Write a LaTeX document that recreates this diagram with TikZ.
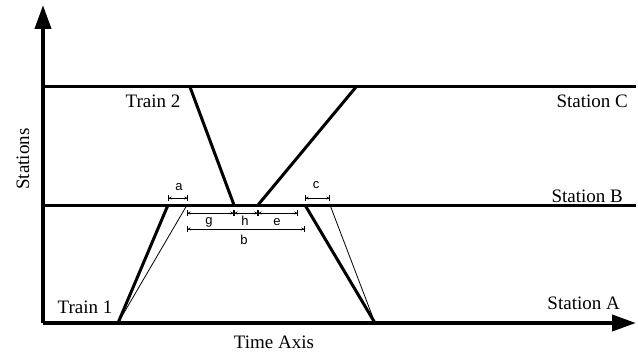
\documentclass[tikz,border=0pt]{standalone}
\usepackage{fontspec}
\setmainfont{Liberation Serif}
\newfontfamily\dimfont{Liberation Sans}
\usetikzlibrary{arrows.meta,positioning}
\tikzset{
  axis/.style    = {line width=4pt, -{Triangle[length=24pt,width=16pt]}},
  station/.style = {line width=3pt},
  train/.style   = {line width=3pt},
  ideal/.style   = {line width=0.8pt},
  dim/.style     = {line width=0.7pt,
                    {Bar[width=6pt]Stealth[length=3pt,width=3pt]}-{Stealth[length=3pt,width=3pt]Bar[width=6pt]}},
  lab/.style     = {font=\fontsize{19}{22}\selectfont, inner sep=0pt},
  dimlab/.style  = {font=\dimfont\fontsize{13}{15}\selectfont, inner sep=0pt},
}

\begin{document}
\begin{tikzpicture}[x=1pt,y=-1pt]
  \useasboundingbox (0,0) rectangle (638,353);

  % axes
  \coordinate (O)  at (43,323);
  \coordinate (yT) at (43,5);
  \coordinate (xT) at (636,323);
  \draw[axis] (O) -- (yT);
  \draw[axis] (O) -- (xT);

  % station lines
  \coordinate (C0) at (43,87);   \coordinate (C1) at (636,87);
  \coordinate (B0) at (43,205);  \coordinate (B1) at (636,205);
  \draw[station] (C0) -- (C1);
  \draw[station] (B0) -- (B1);

  % train paths
  \coordinate (t1a) at (118,323);  \coordinate (t1b) at (168,205);
  \coordinate (t1c) at (305,205);  \coordinate (t1d) at (375,323);
  \coordinate (t2a) at (190,87);   \coordinate (t2b) at (234,205);
  \coordinate (t2c) at (258,205);  \coordinate (t2d) at (356,87);
  \coordinate (i1)  at (187,205);  \coordinate (i2)  at (330,205);
  \draw[train] (t1a) -- (t1b);
  \draw[train] (t1c) -- (t1d);
  \draw[train] (t2a) -- (t2b);
  \draw[train] (t2c) -- (t2d);
  \draw[ideal] (t1a) -- (i1);
  \draw[ideal] (i2) -- (t1d);

  % dimensions
  \coordinate (a0) at (168,198);  \coordinate (a1) at (188,198);
  \coordinate (c0) at (305,198);  \coordinate (c1) at (330,198);
  \coordinate (g0) at (187,213);  \coordinate (g1) at (234,213);
  \coordinate (h1) at (258,213);  \coordinate (e1) at (298,213);
  \coordinate (b0) at (187,229);  \coordinate (b1) at (305,229);
  \draw[dim] (a0) -- (a1);
  \draw[dim] (c0) -- (c1);
  \draw[dim] (g0) -- (g1);
  \draw[dim] (g1) -- (h1);
  \draw[dim] (h1) -- (e1);
  \draw[dim] (b0) -- (b1);
  \node[dimlab] (la) at (179,187) {a};
  \node[dimlab] (lc) at (316,185) {c};
  \node[dimlab] (lg) at (209,222) {g};
  \node[dimlab] (lh) at (245,221) {h};
  \node[dimlab] (le) at (277,222) {e};
  \node[dimlab] (lb) at (244,240) {b};

  % labels
  \node[lab, anchor=east] (sC) at (628,101) {Station C};
  \node[lab, anchor=east] (sB) at (623,196) {Station B};
  \node[lab, anchor=east] (sA) at (620,303) {Station A};
  \node[lab] (tr2) at (153,101) {Train 2};
  \node[lab] (tr1) at (85,307) {Train 1};
  \node[lab] (tax) at (274,342) {Time Axis};
  \node[lab, rotate=90] (sta) at (23,159) {Stations};
\end{tikzpicture}
\end{document}
